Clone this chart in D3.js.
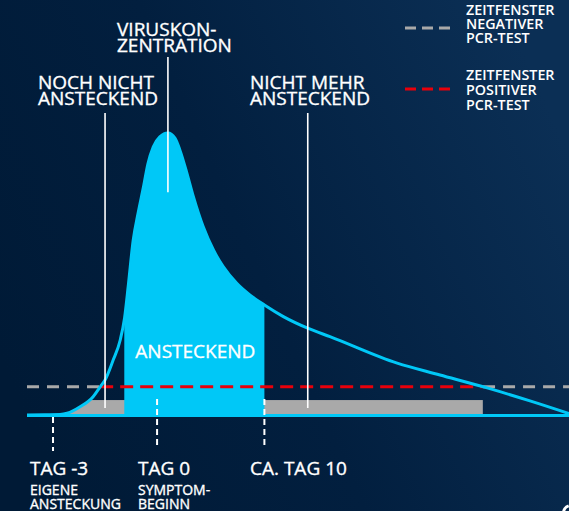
<!DOCTYPE html>
<html>
<head>
<meta charset="utf-8">
<script src="https://cdn.jsdelivr.net/npm/d3@7/dist/d3.min.js"></script>
<style>
  html, body { margin: 0; padding: 0; background: #001a35; }
  svg { display: block; }
  text { font-family: "Open Sans", sans-serif; fill: #ffffff; }
  text.heavy { stroke: #ffffff; stroke-width: 0.35px; }
</style>
</head>
<body>
<svg id="chart" width="569" height="511"></svg>
<script>
// ---- data (schematic time axis 0..100, concentration 0..100) ----
const timePos = [0, 3.3, 6.1, 7.4, 9.8, 12.2, 13.5, 14.4, 15.9, 17.2, 18.0, 18.7, 19.6, 20.5, 21.5, 22.3, 23.3, 24.5, 26.0, 27.3, 28.2, 29.5, 30.7, 32.5, 34.4, 36.2, 38.7, 41.1, 43.8, 47.3, 51.9, 55.9, 68.3, 76.2, 84.9, 92.8, 100];
const concentration = [0, 0.1, 0.2, 0.6, 2.9, 6.5, 10.0, 12.4, 19.5, 26.6, 34.4, 46.1, 62.1, 71.6, 81.0, 89.0, 95.1, 98.6, 100, 98.2, 94.0, 85.8, 77.4, 66.8, 58.5, 52.6, 46.7, 42.6, 39.0, 34.9, 30.7, 27.8, 18.4, 14.2, 9.6, 5.0, 0.5];

const infectiousWindow = [17.95, 43.8];
const grayBandRange = [0, 84.1];
const grayBandLevel = 5.3;
const pcrThreshold = 10;

const tickPos = [4.8, 24.0, 43.8];
const tickLabels = ["TAG -3", "TAG 0", "CA. TAG 10"];
const tickSubLabels = [["EIGENE", "ANSTECKUNG"], ["SYMPTOM-", "BEGINN"], []];

const annotationPos = [14.4, 26.0, 51.8];
const annotationLabels = [["NOCH NICHT", "ANSTECKEND"], ["VIRUSKON-", "ZENTRATION"], ["NICHT MEHR", "ANSTECKEND"]];
const annotationValue = [0, 79, 0];

const legendLabels = [["ZEITFENSTER", "NEGATIVER", "PCR-TEST"], ["ZEITFENSTER", "POSITIVER", "PCR-TEST"]];
const legendColors = ["#a9a9a9", "#e8000b"];

const insideLabel = "ANSTECKEND";

// ---- setup ----
const W = 569, H = 511;
const svg = d3.select("#chart");
const x = d3.scaleLinear().domain([0, 100]).range([27, 569]);
const y = d3.scaleLinear().domain([0, 100]).range([415, 133]);

const cyan = "#00c8f7";
const data = timePos.map((t, i) => ({ t, v: concentration[i] }));

const defs = svg.append("defs");
const grad = defs.append("linearGradient").attr("id", "bg")
  .attr("x1", "0").attr("y1", "0.7").attr("x2", "1").attr("y2", "0.3");
grad.append("stop").attr("offset", "0").attr("stop-color", "#001a36");
grad.append("stop").attr("offset", "0.45").attr("stop-color", "#021f3f");
grad.append("stop").attr("offset", "1").attr("stop-color", "#0b2f55");
svg.append("rect").attr("width", W).attr("height", H).attr("fill", "url(#bg)");

const area = d3.area().x(d => x(d.t)).y0(y(0)).y1(d => y(d.v)).curve(d3.curveMonotoneX);
const line = d3.line().x(d => x(d.t)).y(d => y(d.v)).curve(d3.curveMonotoneX);

defs.append("clipPath").attr("id", "underCurve").append("path").datum(data).attr("d", area);
defs.append("clipPath").attr("id", "infWin").append("rect")
  .attr("x", x(infectiousWindow[0])).attr("y", 0)
  .attr("width", x(infectiousWindow[1]) - x(infectiousWindow[0])).attr("height", y(0) + 1);

// gray band (under curve)
svg.append("rect")
  .attr("clip-path", "url(#underCurve)")
  .attr("x", x(grayBandRange[0])).attr("y", y(grayBandLevel))
  .attr("width", x(grayBandRange[1]) - x(grayBandRange[0]))
  .attr("height", y(0) - y(grayBandLevel))
  .attr("fill", "#a9a9a9");

// infectious fill
svg.append("path").datum(data).attr("d", area)
  .attr("clip-path", "url(#infWin)").attr("fill", cyan);

// threshold crossings
function crossings(th) {
  const res = [];
  for (let i = 1; i < data.length; i++) {
    const a = data[i - 1], b = data[i];
    if ((a.v - th) * (b.v - th) < 0 || (b.v === th && a.v < th)) {
      res.push(a.t + (th - a.v) / (b.v - a.v) * (b.t - a.t));
    }
  }
  return res;
}
const cr = crossings(pcrThreshold);
const yTh = y(pcrThreshold);
// gray dashed (negative PCR)
[[0, cr[0]], [cr[cr.length - 1], 100]].forEach(([a, b]) => {
  svg.append("line").attr("x1", x(a)).attr("x2", x(b)).attr("y1", yTh).attr("y2", yTh)
    .attr("stroke", legendColors[0]).attr("stroke-width", 3).attr("stroke-dasharray", "12,8");
});
// red dashed (positive PCR)
svg.append("line").attr("x1", x(cr[0])).attr("x2", x(cr[cr.length - 1])).attr("y1", yTh).attr("y2", yTh)
  .attr("stroke", legendColors[1]).attr("stroke-width", 3).attr("stroke-dasharray", "13,7");

// curve line
svg.append("path").datum(data).attr("d", line)
  .attr("fill", "none").attr("stroke", cyan).attr("stroke-width", 3);
// baseline
svg.append("line").attr("x1", x(0)).attr("x2", x(100)).attr("y1", y(0) + 0.5).attr("y2", y(0) + 0.5)
  .attr("stroke", cyan).attr("stroke-width", 3);

// annotation leader lines
const annTop = [113, 57, 113];
const annBottom = [408, null, 408];
annotationPos.forEach((t, i) => {
  svg.append("line").attr("x1", x(t)).attr("x2", x(t))
    .attr("y1", annTop[i]).attr("y2", annBottom[i] != null ? annBottom[i] : y(annotationValue[i]))
    .attr("stroke", "#ffffff").attr("stroke-width", 1.6);
});

// annotation texts
const annX = [38, 117, 250];
const annBase = [[89, 105], [36, 52], [89, 105]];
annotationLabels.forEach((lines, i) => {
  lines.forEach((s, j) => {
    svg.append("text").attr("class", "heavy").attr("x", annX[i]).attr("y", annBase[i][j])
      .attr("font-size", 19).text(s);
  });
});

// inside label
svg.append("text").attr("class", "heavy")
  .attr("x", (x(infectiousWindow[0]) + x(infectiousWindow[1])) / 2 + 1).attr("y", 358)
  .attr("text-anchor", "middle").attr("font-size", 19).text(insideLabel);

// tick marks (dashed)
const tickTop = [417, 399, 399];
const tickBottom = [451, 447, 447];
tickPos.forEach((t, i) => {
  svg.append("line").attr("x1", x(t)).attr("x2", x(t)).attr("y1", tickTop[i]).attr("y2", tickBottom[i])
    .attr("stroke", "#ffffff").attr("stroke-width", 2).attr("stroke-dasharray", "6,4");
});
const tickLabelX = [30, 138, 250];
tickLabels.forEach((s, i) => {
  svg.append("text").attr("class", "heavy").attr("x", tickLabelX[i]).attr("y", 475)
    .attr("font-size", 19).text(s);
  tickSubLabels[i].forEach((ss, j) => {
    svg.append("text").attr("class", "heavy").attr("x", tickLabelX[i]).attr("y", 495 + j * 13.5)
      .attr("font-size", 14).text(ss);
  });
});

// legend
const legendY = [28, 89];
const legendBase = [[15, 29, 43], [80, 95, 110]];
legendLabels.forEach((lines, i) => {
  svg.append("line").attr("x1", 405).attr("x2", 451).attr("y1", legendY[i]).attr("y2", legendY[i])
    .attr("stroke", legendColors[i]).attr("stroke-width", 3).attr("stroke-dasharray", "11,6");
  lines.forEach((s, j) => {
    svg.append("text").attr("x", 466).attr("y", legendBase[i][j])
      .attr("font-size", 14.3).attr("font-weight", 600).text(s);
  });
});

// corner logo fragment
svg.append("path").attr("d", d3.arc()({ innerRadius: 6, outerRadius: 9, startAngle: -Math.PI * 0.1, endAngle: -Math.PI * 0.95 }))
  .attr("transform", "translate(571,513)").attr("fill", "#ffffff");
</script>
</body>
</html>
